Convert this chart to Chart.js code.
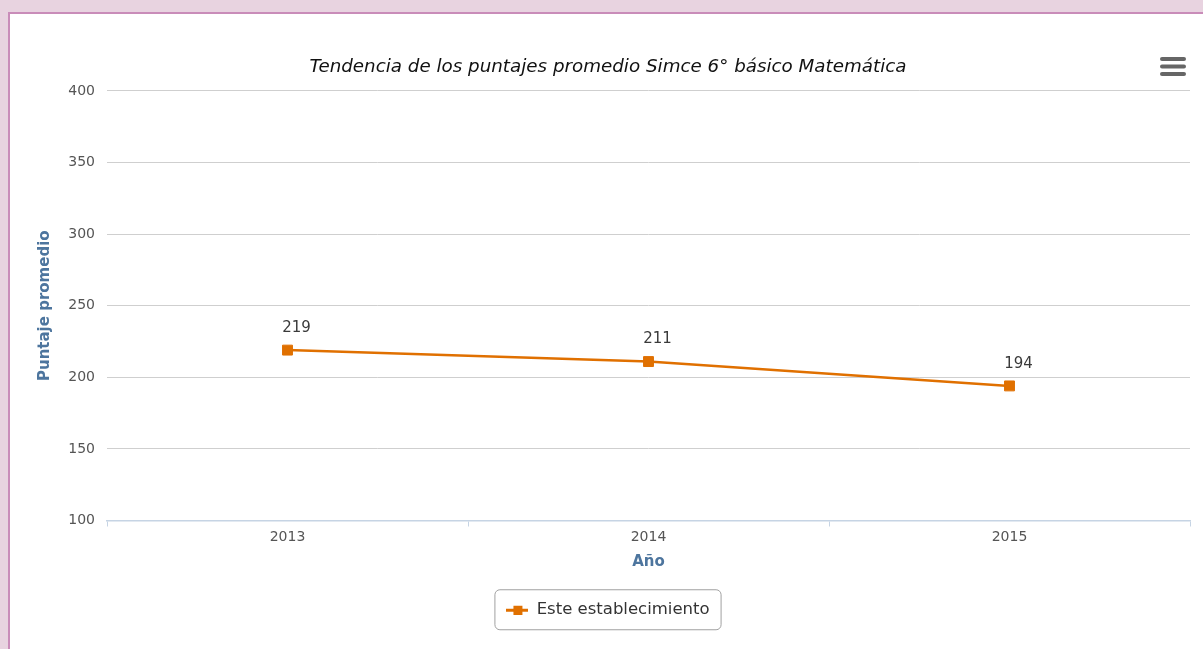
<!DOCTYPE html>
<html>
<head>
<meta charset="utf-8">
<script src="https://cdn.jsdelivr.net/npm/chart.js@4/dist/chart.umd.min.js"></script>
<style>
body { margin:0; background:#e8d3e0; overflow:hidden; }
#frame { position:absolute; left:8px; top:12px; width:1300px; height:700px; background:#fff; border-left:2px solid #c98cb9; border-top:2px solid #c98cb9; }
#wrap { position:absolute; left:0; top:1px; width:1193px; height:634px; }
</style>
</head>
<body>
<div id="frame"><div id="wrap"><canvas id="simceChart"></canvas></div></div>
<script>
var years = ['2013', '2014', '2015'];
var scores = [219, 211, 194];
var yMin = 100, yMax = 400, yStep = 50;
var serieName = 'Este establecimiento';
var lineColor = '#e07000';

// icono de la leyenda: linea con cuadrado al centro
var legendIcon = document.createElement('canvas');
legendIcon.width = 22; legendIcon.height = 10;
var ic = legendIcon.getContext('2d');
ic.fillStyle = lineColor;
ic.fillRect(0, 4, 22, 3);
ic.fillRect(7, 1, 9, 9);

var valueLabels = {
	id: 'valueLabels',
	afterDatasetsDraw: function(chart) {
		var ctx = chart.ctx;
		var meta = chart.getDatasetMeta(0);
		ctx.save();
		ctx.font = '15px "DejaVu Sans"';
		ctx.fillStyle = '#3a3a3a';
		ctx.textAlign = 'center';
		ctx.textBaseline = 'middle';
		meta.data.forEach(function(pt, i) {
			ctx.fillText(chart.data.datasets[0].data[i], pt.x + 9, pt.y - 22);
		});
		ctx.restore();
	}
};

var extras = {
	id: 'extras',
	afterDraw: function(chart) {
		var ctx = chart.ctx;
		// borde de la leyenda
		var hb = chart.legend.legendHitBoxes[0];
		if (hb) {
			var cy = hb.top + hb.height / 2;
			ctx.save();
			ctx.strokeStyle = '#a0a0a0';
			ctx.lineWidth = 1;
			ctx.beginPath();
			ctx.roundRect(hb.left - 11.5, cy - 20, hb.width + 23, 40, 5);
			ctx.stroke();
			ctx.restore();
		}
		// menu
		ctx.save();
		ctx.strokeStyle = '#666';
		ctx.lineWidth = 4;
		ctx.lineCap = 'round';
		[44, 51.5, 59].forEach(function(y) {
			ctx.beginPath();
			ctx.moveTo(1152, y);
			ctx.lineTo(1174, y);
			ctx.stroke();
		});
		ctx.restore();
	}
};

var chart = new Chart(document.getElementById('simceChart'), {
	type: 'line',
	data: {
		labels: years,
		datasets: [{
			label: serieName,
			data: scores,
			borderColor: lineColor,
			backgroundColor: lineColor,
			borderWidth: 2.5,
			pointStyle: 'rect',
			pointRadius: 7,
			pointBorderWidth: 1,
			tension: 0
		}]
	},
	options: {
		responsive: true,
		maintainAspectRatio: false,
		animation: false,
		layout: { padding: { left: 16, right: 13, top: 0, bottom: 21 } },
		plugins: {
			title: {
				display: true,
				text: 'Tendencia de los puntajes promedio Simce 6° básico Matemática',
				color: '#111',
				font: { family: '"DejaVu Sans"', size: 18.3, style: 'italic', weight: 'normal' },
				padding: { top: 41, bottom: 13 }
			},
			legend: {
				position: 'bottom',
				labels: {
					color: '#333',
					font: { family: '"DejaVu Sans"', size: 16.5 },
					usePointStyle: true,
					pointStyleWidth: 22,
					padding: 9,
					generateLabels: function(chart) {
						var items = Chart.defaults.plugins.legend.labels.generateLabels(chart);
						items.forEach(function(it) { it.pointStyle = legendIcon; });
						return items;
					}
				}
			},
			tooltip: { enabled: false }
		},
		scales: {
			x: {
				offset: true,
				afterFit: function(scale) { scale.height = 72; },
				grid: { offset: true, drawOnChartArea: false, drawTicks: true, tickLength: 6, color: '#c6d4e4' },
				border: { color: '#c6d4e4', width: 1.5 },
				ticks: { color: '#555', padding: 2, font: { family: '"DejaVu Sans"', size: 14 } },
				title: {
					display: true, text: 'Año', color: '#4d759e',
					font: { family: '"DejaVu Sans"', size: 15, weight: 'bold' },
					padding: { top: 0, bottom: 21 }
				}
			},
			y: {
				min: yMin,
				max: yMax,
				afterFit: function(scale) { scale.width = 81; },
				border: { display: false },
				grid: { color: '#cfcfcf', drawTicks: false },
				ticks: { stepSize: yStep, color: '#555', padding: 12, font: { family: '"DejaVu Sans"', size: 14 } },
				title: {
					display: true, text: 'Puntaje promedio', color: '#4d759e',
					font: { family: '"DejaVu Sans"', size: 15, weight: 'bold' },
					padding: { top: 10, bottom: 0 }
				}
			}
		}
	},
	plugins: [valueLabels, extras]
});
</script>
</body>
</html>
